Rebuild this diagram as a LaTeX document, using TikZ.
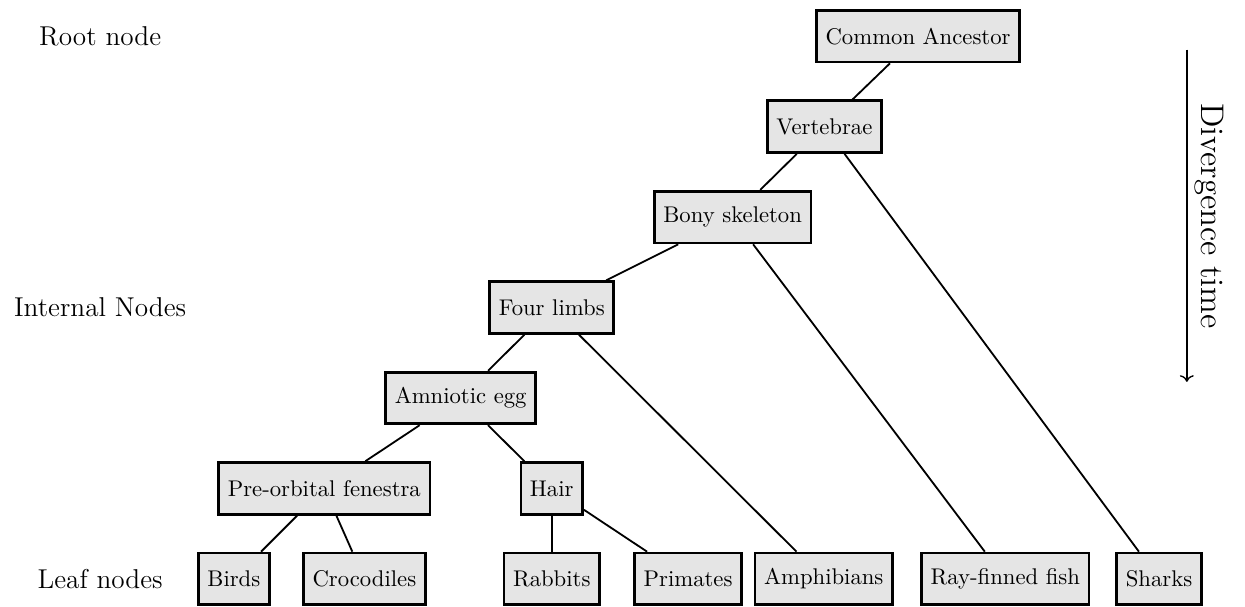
\documentclass[tikz,border=0pt]{standalone}
\usepackage{tikz}
\usetikzlibrary{positioning, arrows.meta}

\begin{document}
\begin{tikzpicture}[
        taxon/.style={draw, very thick, fill=gray!20, minimum height=0.8cm, inner xsep=4pt},
        branch/.style={thick},
        level/.style={font=\large}]
        \useasboundingbox (0,0) rectangle (19.27,-9.38);
        % root and internal nodes
        \node[taxon] (ca)      at (14.21,-0.56) {Common Ancestor};
        \node[taxon] (vert)    at (12.76,-1.96) {Vertebrae};
        \node[taxon] (bony)    at (11.34,-3.36) {Bony skeleton};
        \node[taxon] (limbs)   at (8.54,-4.76)  {Four limbs};
        \node[taxon] (amnio)   at (7.13,-6.16)  {Amniotic egg};
        \node[taxon] (preorb)  at (5.02,-7.56)  {Pre-orbital fenestra};
        \node[taxon] (hair)    at (8.54,-7.56)  {Hair};
        % leaves
        \node[taxon] (birds)   at (3.62,-8.96)  {Birds};
        \node[taxon] (croc)    at (5.64,-8.96)  {Crocodiles};
        \node[taxon] (rabbit)  at (8.54,-8.96)  {Rabbits};
        \node[taxon] (primate) at (10.65,-8.96) {Primates};
        \node[taxon] (amphib)  at (12.75,-8.96) {Amphibians};
        \node[taxon] (fish)    at (15.56,-8.96) {Ray-finned fish};
        \node[taxon] (shark)   at (17.94,-8.96) {Sharks};
        % branches
        \draw[branch] (ca) -- (vert);
        \draw[branch] (vert) -- (bony);
        \draw[branch] (vert) -- (shark);
        \draw[branch] (bony) -- (limbs);
        \draw[branch] (bony) -- (fish);
        \draw[branch] (limbs) -- (amnio);
        \draw[branch] (limbs) -- (amphib);
        \draw[branch] (amnio) -- (preorb);
        \draw[branch] (amnio) -- (hair);
        \draw[branch] (preorb) -- (birds);
        \draw[branch] (preorb) -- (croc);
        \draw[branch] (hair) -- (rabbit);
        \draw[branch] (hair) -- (primate);
        % level labels
        \node[level] (rootlbl)     at (1.55,-0.56) {Root node};
        \node[level] (internallbl) at (1.55,-4.76) {Internal Nodes};
        \node[level] (leaflbl)     at (1.55,-8.96) {Leaf nodes};
        % time axis
        \coordinate (tstart) at (18.37,-0.77);
        \coordinate (tend)   at (18.37,-5.91);
        \draw[->, semithick] (tstart) -- (tend)
              node[midway, anchor=south, rotate=-90, font=\Large] (timelbl) {Divergence time};
      \end{tikzpicture}
\end{document}
